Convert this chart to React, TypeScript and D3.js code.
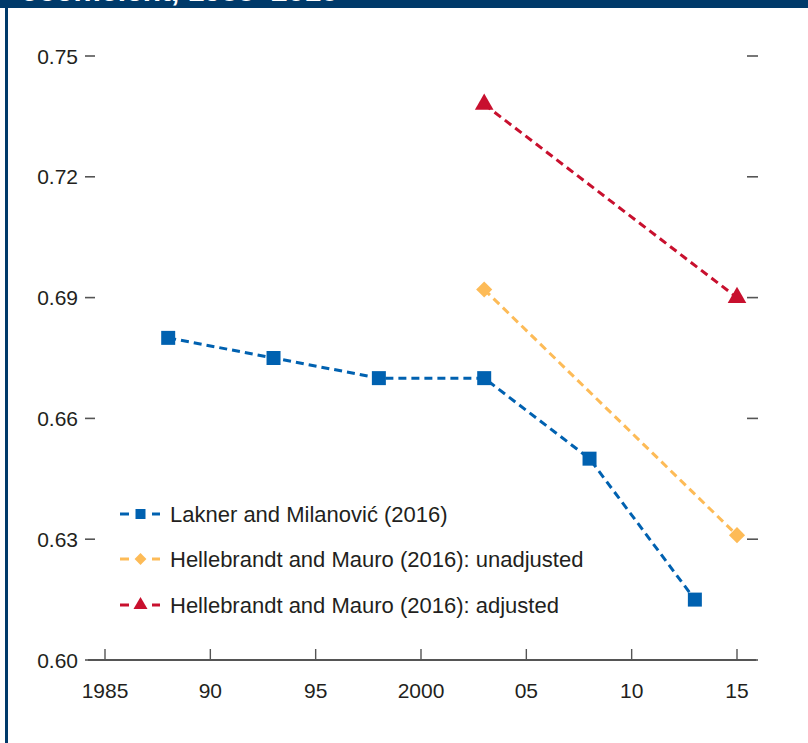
import React, { useEffect } from 'react';
import * as d3 from 'd3';

// Global income Gini, three estimates
const laknerYears = [1988, 1993, 1998, 2003, 2008, 2013];
const laknerValues = [0.68, 0.675, 0.67, 0.67, 0.65, 0.615];
const unadjYears = [2003, 2015];
const unadjValues = [0.692, 0.631];
const adjYears = [2003, 2015];
const adjValues = [0.738, 0.69];

const xTicks = [1985, 1990, 1995, 2000, 2005, 2010, 2015];
const xTickLabels = ['1985', '90', '95', '2000', '05', '10', '15'];
const yTicks = [0.6, 0.63, 0.66, 0.69, 0.72, 0.75];

const legendLabels = [
  'Lakner and Milanović (2016)',
  'Hellebrandt and Mauro (2016): unadjusted',
  'Hellebrandt and Mauro (2016): adjusted',
];

const BLUE = '#0061b0';
const GOLD = '#fdbb57';
const RED = '#c8102e';
const NAVY = '#003a6a';
const INK = '#231f20';
const FONT = "'Liberation Sans Narrow', 'Arial Narrow', 'Liberation Sans', sans-serif";

const W = 808, H = 743;

export default function App() {
  useEffect(() => {
    document.body.style.margin = '0';
  }, []);

  const x = d3.scaleLinear().domain([1985, 2015]).range([105, 737]);
  const y = d3.scaleLinear().domain([0.6, 0.75]).range([660, 56]);

  const line = d3.line<[number, number]>()
    .x(d => x(d[0]))
    .y(d => y(d[1]));

  const pts = (years: number[], vals: number[]) => years.map((yr, i) => [yr, vals[i]] as [number, number]);

  const square = d3.symbol().type(d3.symbolSquare).size(196)();
  const diamond = d3.symbol().type(d3.symbolSquare).size(130)();
  const triangle = d3.symbol().type(d3.symbolTriangle).size(150)();

  const series = [
    { data: pts(laknerYears, laknerValues), color: BLUE, marker: square, rot: 0, legendMarker: d3.symbol().type(d3.symbolSquare).size(100)() },
    { data: pts(unadjYears, unadjValues), color: GOLD, marker: diamond, rot: 45, legendMarker: d3.symbol().type(d3.symbolSquare).size(70)() },
    { data: pts(adjYears, adjValues), color: RED, marker: triangle, rot: 0, legendMarker: d3.symbol().type(d3.symbolTriangle).size(85)() },
  ];

  const legendY = [514, 559, 605];

  return (
    <svg width={W} height={H} style={{ display: 'block', background: '#fff' }} fontFamily={FONT}>
      {/* frame, title is cropped in the source */}
      <rect x={0} y={0} width={W} height={8} fill={NAVY} />
      <text x={21} y={1} fill="#fff" fontSize={30} fontWeight="bold">coefficient, 1988–2015</text>
      <rect x={5} y={0} width={3} height={H} fill={NAVY} />

      {/* y ticks left + right */}
      {yTicks.map(t => (
        <g key={t}>
          <text x={78} y={y(t)} dy="0.36em" textAnchor="end" fontSize={21} fill={INK}>{t.toFixed(2)}</text>
          <line x1={85} x2={95} y1={y(t)} y2={y(t)} stroke="#555" strokeWidth={1.6} />
          <line x1={747} x2={758} y1={y(t)} y2={y(t)} stroke="#555" strokeWidth={1.6} />
        </g>
      ))}

      {/* x axis */}
      <line x1={88} x2={756} y1={y(0.6)} y2={y(0.6)} stroke="#555" strokeWidth={2} />
      {xTicks.map((t, i) => (
        <g key={t}>
          <line x1={x(t)} x2={x(t)} y1={y(0.6)} y2={y(0.6) - 11} stroke="#555" strokeWidth={1.4} />
          <text x={x(t)} y={y(0.6) + 38} textAnchor="middle" fontSize={21} fill={INK}>{xTickLabels[i]}</text>
        </g>
      ))}

      {/* series */}
      {series.map((s, i) => (
        <g key={i}>
          <path d={line(s.data) ?? ''} fill="none" stroke={s.color} strokeWidth={3} strokeDasharray="8 5" />
          {s.data.map((d, j) => (
            <path key={j} d={s.marker ?? ''} fill={s.color}
              transform={`translate(${x(d[0])},${y(d[1])}) rotate(${s.rot})`} />
          ))}
        </g>
      ))}

      {/* legend */}
      {series.map((s, i) => (
        <g key={i} transform={`translate(0,${legendY[i]})`}>
          <line x1={120} x2={129} y1={0} y2={0} stroke={s.color} strokeWidth={3} />
          <line x1={152} x2={160} y1={0} y2={0} stroke={s.color} strokeWidth={3} />
          <path d={s.legendMarker ?? ''} fill={s.color} transform={`translate(140.5,0) rotate(${s.rot})`} />
          <text x={170} y={0} dy="0.36em" fontSize={22} fill={INK}>{legendLabels[i]}</text>
        </g>
      ))}
    </svg>
  );
}
